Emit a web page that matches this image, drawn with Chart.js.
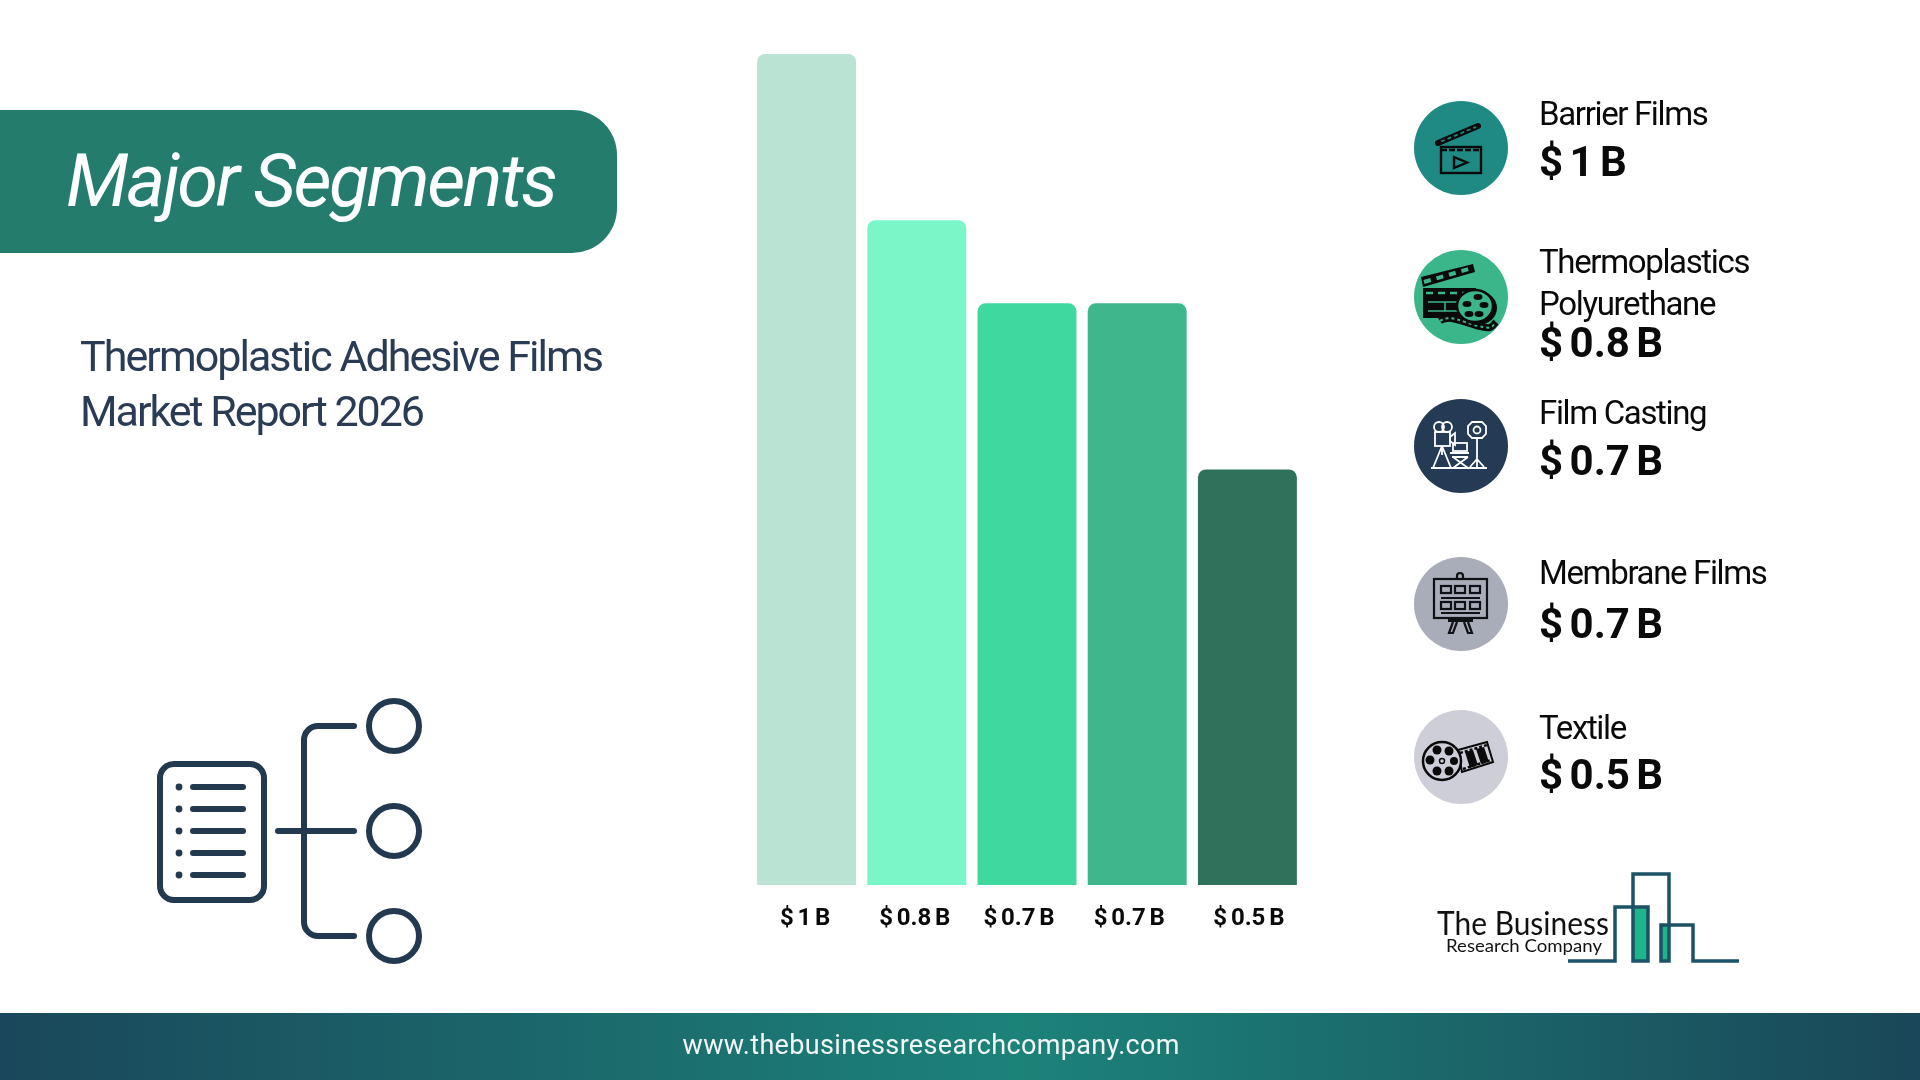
<!DOCTYPE html>
<html lang="en">
  <head>
    <meta charset="UTF-8" />
    <title>Major Segments</title>
    <style>
      html, body { margin: 0; padding: 0; background: #fff; }
      #stage { position: relative; width: 1920px; height: 1080px; overflow: hidden; background: #fff; }
      #segmentChart { position: absolute; left: 0; top: 0; }
      #overlay { position: absolute; left: 0; top: 0; pointer-events: none; font-family: Roboto, sans-serif; }
    </style>
  </head>
  <body>
    <div id="stage">
      <canvas id="segmentChart" width="1920" height="1080"></canvas>
      <svg id="overlay" width="1920" height="1080" viewBox="0 0 1920 1080" xmlns="http://www.w3.org/2000/svg">
        <defs>
          <linearGradient id="footerFill" x1="0" x2="1" y1="0" y2="0">
            <stop offset="0" stop-color="#1a475b" />
            <stop offset="0.53" stop-color="#1c8379" />
            <stop offset="1" stop-color="#1a4759" />
          </linearGradient>
        </defs>

        <!-- banner -->
        <path d="M0 110 H572 A45 45 0 0 1 617 155 V208 A45 45 0 0 1 572 253 H0 Z" fill="#247c6c" />
        <text x="66" y="206" fill="#fff" font-size="74" font-style="italic" font-weight="400" textLength="492" lengthAdjust="spacing">Major Segments</text>

        <text x="80" y="371" fill="#2a3c55" font-size="43" textLength="524" lengthAdjust="spacing">Thermoplastic Adhesive Films</text>
        <text x="80" y="426" fill="#2a3c55" font-size="43" textLength="345" lengthAdjust="spacing">Market Report 2026</text>

        <!-- hierarchy icon -->
        <g fill="none" stroke="#22394f" stroke-width="6" stroke-linecap="round">
          <rect x="160" y="764" width="104" height="136" rx="14" />
          <path d="M193 787H243M193 809H243M193 831H243M193 853H243M193 875H243" />
          <path d="M354 726H318A14 14 0 0 0 304 740V922A14 14 0 0 0 318 936H354" />
          <path d="M278 831H354" />
          <circle cx="394" cy="726" r="25" />
          <circle cx="394" cy="831" r="25" />
          <circle cx="394" cy="936" r="25" />
        </g>
        <g fill="#22394f">
          <circle cx="179" cy="787" r="3.4" /><circle cx="179" cy="809" r="3.4" /><circle cx="179" cy="831" r="3.4" />
          <circle cx="179" cy="853" r="3.4" /><circle cx="179" cy="875" r="3.4" />
        </g>

        <!-- right column circles -->
        <circle cx="1461" cy="148" r="47" fill="#1f8a84" />
        <circle cx="1461" cy="297" r="47" fill="#3bb58a" />
        <circle cx="1461" cy="446" r="47" fill="#253a54" />
        <circle cx="1461" cy="604" r="47" fill="#a9adb9" />
        <circle cx="1461" cy="757" r="47" fill="#cdced8" />

        <!-- clapper with play -->
        <g fill="none" stroke="#0a0a0a" stroke-width="2.4">
          <rect x="1441" y="147" width="40" height="26" />
          <path d="M1441 150H1481" stroke-width="2.5" stroke-dasharray="6 2" />
          <path d="M1438 143L1478 126" stroke-width="6" stroke-linecap="round" />
          <path d="M1441 141.5L1476 127" stroke="#1f8a84" stroke-width="1.8" stroke-dasharray="4 3" />
          <path d="M1454 157L1467 162.5L1454 168Z" />
        </g>

        <!-- clapper and reel -->
        <g>
          <path d="M1421 277L1473 264L1475 272L1423 287Z" fill="#0a0a0a" />
          <path d="M1424 282L1472 268" stroke="#3bb58a" stroke-width="4" stroke-dasharray="7 6" />
          <rect x="1423" y="288" width="53" height="30" fill="#0a0a0a" />
          <path d="M1426 293H1474" stroke="#3bb58a" stroke-width="2.5" stroke-dasharray="7 5" />
          <path d="M1428 302H1462M1428 311H1458M1445 302V311" stroke="#3bb58a" stroke-width="1.5" />
          <path d="M1440 321C1450 314 1462 322 1478 326S1492 326 1496 322" fill="none" stroke="#0a0a0a" stroke-width="7" />
          <path d="M1440 321C1450 314 1462 322 1478 326S1492 326 1496 322" fill="none" stroke="#3bb58a" stroke-width="2" stroke-dasharray="3 3" />
          <ellipse cx="1478" cy="308" rx="19" ry="17" fill="#0a0a0a" />
          <ellipse cx="1475" cy="306" rx="18" ry="16" fill="#3bb58a" stroke="#0a0a0a" stroke-width="2.5" />
          <g fill="#0a0a0a">
            <ellipse cx="1478" cy="297" rx="4.5" ry="3" /><ellipse cx="1467" cy="304" rx="4.5" ry="3" /><ellipse cx="1484" cy="305" rx="4.5" ry="3" />
            <ellipse cx="1469" cy="314" rx="4.5" ry="3" /><ellipse cx="1479" cy="314" rx="4.5" ry="3" />
          </g>
        </g>

        <!-- crew set -->
        <g fill="none" stroke="#fff" stroke-width="1.8">
          <circle cx="1439" cy="427" r="5" /><circle cx="1447" cy="427" r="5" />
          <rect x="1435" y="432" width="15" height="14" />
          <path d="M1450 437L1455 433V445L1450 441Z" />
          <path d="M1442 446L1433 468M1442 446L1451 468M1442 446V455" />
          <path d="M1431 468H1487" />
          <rect x="1453" y="443" width="14" height="8" />
          <path d="M1450 453H1469M1452 457H1468M1453 457L1468 468M1468 457L1453 468" />
          <path d="M1472 422H1482L1486 426V434L1482 438H1472L1468 434V426Z" />
          <circle cx="1477" cy="430" r="3.5" />
          <path d="M1477 438V468M1477 459L1470 467M1477 459L1484 467" />
        </g>

        <!-- easel board -->
        <g fill="none" stroke="#0f1115" stroke-width="2.2">
          <rect x="1434" y="579" width="53" height="39" />
          <path d="M1457 579V576A3 3 0 0 1 1463 576V579" />
          <rect x="1441" y="586" width="10" height="7" /><rect x="1455" y="586" width="10" height="7" /><rect x="1470" y="586" width="10" height="7" />
          <rect x="1441" y="602" width="10" height="7" /><rect x="1455" y="602" width="10" height="7" /><rect x="1470" y="602" width="10" height="7" />
          <path d="M1441 598H1480M1441 613H1480" />
          <path d="M1448 620.5H1473" stroke-width="3" />
          <path d="M1453 622L1449 633H1453L1457 622M1464 622L1468 633H1472L1468 622" />
        </g>

        <!-- film reel -->
        <g>
          <path d="M1458 750L1487 742L1493 762L1462 772Z" fill="#cdced8" stroke="#0a0a0a" stroke-width="2" />
          <path d="M1465 752L1473 750L1478 765L1470 768ZM1476 749L1484 747L1489 762L1481 764Z" fill="#0a0a0a" />
          <path d="M1460 753L1487 745M1463 769L1491 760" stroke="#0a0a0a" stroke-width="2.4" stroke-dasharray="3 2" />
          <circle cx="1442" cy="761" r="19" fill="#cdced8" stroke="#0a0a0a" stroke-width="2.5" />
          <g fill="#0a0a0a">
            <circle cx="1437" cy="750" r="4.5" /><circle cx="1449" cy="751" r="4.5" /><circle cx="1430" cy="760" r="4.5" />
            <circle cx="1437" cy="771" r="4.5" /><circle cx="1449" cy="771" r="4.5" /><circle cx="1454" cy="761" r="4" />
          </g>
          <circle cx="1442" cy="761" r="2.5" fill="none" stroke="#0a0a0a" stroke-width="1.5" />
        </g>

        <g id="segmentList"></g>

        <!-- logo -->
        <text x="1437" y="935" fill="#111" font-family="Lato, sans-serif" font-size="32" font-weight="400" textLength="172" lengthAdjust="spacingAndGlyphs">The Business</text>
        <text x="1446" y="952" fill="#111" font-family="Lato, sans-serif" font-size="17" font-weight="400" textLength="156" lengthAdjust="spacingAndGlyphs">Research Company</text>
        <rect x="1633" y="907" width="15" height="54" fill="#1fb58a" />
        <rect x="1661" y="925" width="8" height="36" fill="#1fb58a" />
        <path d="M1568 961H1615V907H1648V961H1633V874H1669V961H1661V925H1693V961H1739" fill="none" stroke="#1c5266" stroke-width="3.5" />

        <!-- footer -->
        <rect x="0" y="1013" width="1920" height="67" fill="url(#footerFill)" />
        <text x="931" y="1054" fill="#f2f6f6" font-size="27" text-anchor="middle" textLength="497" lengthAdjust="spacing">www.thebusinessresearchcompany.com</text>
      </svg>
    </div>

    <script src="https://cdn.jsdelivr.net/npm/chart.js"></script>
    <script>
      const categories = ['Barrier Films', 'Thermoplastics Polyurethane', 'Film Casting', 'Membrane Films', 'Textile'];
      const marketValues = [1, 0.8, 0.7, 0.7, 0.5];
      const tickLabels = ['$ 1 B', '$ 0.8 B', '$ 0.7 B', '$ 0.7 B', '$ 0.5 B'];
      const barColors = ['#bae3d3', '#7af7c8', '#3fd9a0', '#3fb68c', '#2f725b'];

      // tick labels in the reference are not quite centred under the bars
      const tickNudge = [-1.5, -2, -8, -8, 1.5];

      const nudgedTicks = {
        id: 'nudgedTicks',
        afterDraw(chart) {
          const ctx = chart.ctx;
          const xScale = chart.scales.x;
          ctx.save();
          ctx.font = 'bold 24px Roboto';
          ctx.wordSpacing = '-2.2px';
          ctx.fillStyle = '#0a0a0a';
          ctx.textAlign = 'center';
          ctx.textBaseline = 'alphabetic';
          tickLabels.forEach((label, i) => {
            ctx.fillText(label, xScale.getPixelForValue(i) + tickNudge[i], 925);
          });
          ctx.restore();
        },
      };

      new Chart(document.getElementById('segmentChart').getContext('2d'), {
        type: 'bar',
        data: {
          labels: categories,
          datasets: [
            {
              data: marketValues,
              backgroundColor: barColors,
              borderWidth: 0,
              borderRadius: { topLeft: 8, topRight: 8 },
              borderSkipped: false,
              categoryPercentage: 1,
              barPercentage: 0.898,
            },
          ],
        },
        options: {
          responsive: false,
          animation: false,
          // the padding puts the plot area where the bars sit on the slide
          layout: { padding: { left: 751.5, right: 617.5, top: 54, bottom: 195 } },
          plugins: { legend: { display: false }, tooltip: { enabled: false } },
          scales: {
            x: { display: false },
            y: { display: false, min: 0, max: 1 },
          },
        },
        plugins: [nudgedTicks],
      });

      // right hand list, names and amounts come from the arrays above
      const listRows = [
        { name: [125], value: 176 },
        { name: [273, 315], value: 357 },
        { name: [424], value: 475 },
        { name: [584], value: 638 },
        { name: [739], value: 789 },
      ];
      const svgNs = 'http://www.w3.org/2000/svg';
      const list = document.getElementById('segmentList');
      const addText = (str, y, size, weight) => {
        const t = document.createElementNS(svgNs, 'text');
        t.setAttribute('x', 1539);
        t.setAttribute('y', y);
        t.setAttribute('font-size', size);
        t.setAttribute('font-weight', weight);
        t.setAttribute('fill', '#0a0a0a');
        if (weight === 700) {
          t.setAttribute('word-spacing', -4);
        } else {
          t.setAttribute('letter-spacing', -1.35);
        }
        t.textContent = str;
        list.appendChild(t);
      };
      categories.forEach((name, i) => {
        const lines = listRows[i].name.length > 1 ? name.split(' ') : [name];
        lines.forEach((line, j) => addText(line, listRows[i].name[j], 33, 400));
        addText(tickLabels[i], listRows[i].value, 42, 700);
      });
    </script>
  </body>
</html>
